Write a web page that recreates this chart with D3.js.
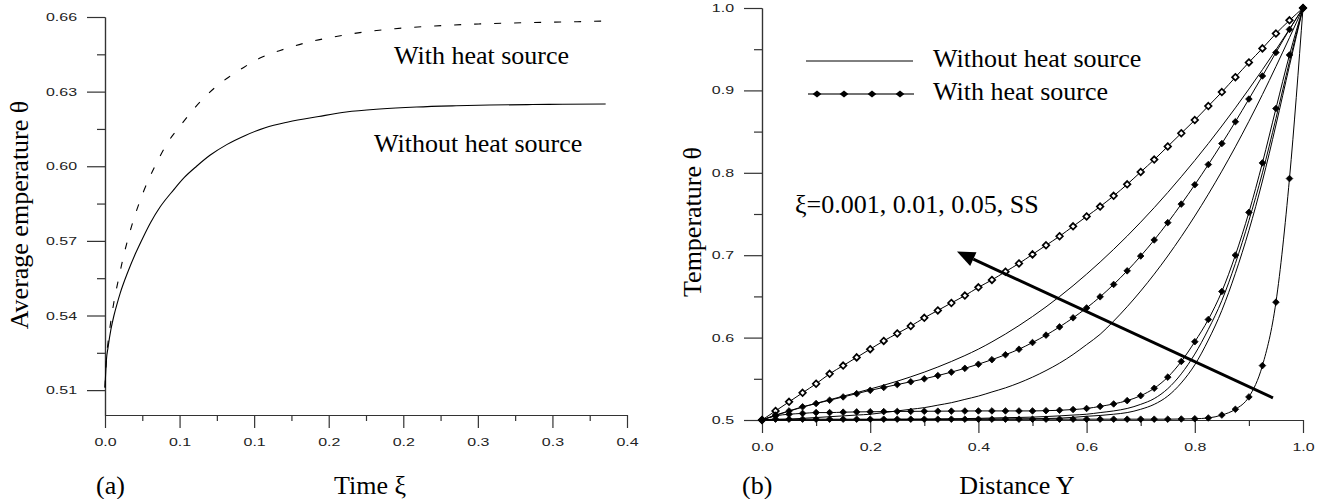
<!DOCTYPE html>
<html>
<head>
<meta charset="utf-8">
<script src="https://cdn.jsdelivr.net/npm/d3@7"></script>
<style>
  html, body { margin: 0; padding: 0; background: #fff; }
  svg { display: block; }
  .tick text { font-family: "Liberation Sans", Arial, sans-serif; font-size: 11px; fill: #222; }
  .serif { font-family: "Liberation Serif", "Times New Roman", serif; font-size: 26px; fill: #000; }
</style>
</head>
<body>
<svg id="chart" width="1327" height="499"></svg>
<script>
// ---- Panel (a): average temperature vs time ----
const xiWithout = [0, 0.001, 0.002, 0.004, 0.006, 0.008, 0.0102, 0.0153, 0.0205, 0.0256, 0.0307, 0.0368, 0.046, 0.0532, 0.0614,
  0.0706, 0.0819, 0.0941, 0.1074, 0.1228, 0.1433, 0.1617, 0.1842, 0.2088, 0.2354, 0.2579, 0.2865, 0.307, 0.3357];
const thetaWithout = [0.511, 0.5225, 0.527, 0.5345, 0.540, 0.5445, 0.549, 0.5575, 0.565, 0.5715, 0.5775, 0.5835, 0.5905, 0.5955, 0.600,
  0.6045, 0.6088, 0.6124, 0.6155, 0.6178, 0.620, 0.6218, 0.623, 0.6238, 0.6243, 0.6246, 0.6248, 0.6249, 0.625];

const xiWith = [0, 0.001, 0.002, 0.004, 0.006, 0.0092, 0.0123, 0.0164, 0.0205, 0.0256, 0.0343, 0.042, 0.0512, 0.0583, 0.0655,
  0.0737, 0.0829, 0.0921, 0.1039, 0.1197, 0.1371, 0.1535, 0.174, 0.1944, 0.221, 0.2507, 0.2814, 0.307, 0.3387];
const thetaWith = [0.511, 0.523, 0.529, 0.538, 0.5455, 0.555, 0.5635, 0.573, 0.581, 0.5895, 0.601, 0.6095, 0.6168, 0.6222, 0.627,
  0.6316, 0.6358, 0.6394, 0.6435, 0.647, 0.650, 0.652, 0.654, 0.6553, 0.6564, 0.6572, 0.6577, 0.658, 0.6584];

const xTicksA = [0, 0.05, 0.10, 0.15, 0.20, 0.25, 0.30, 0.35];
const xTickLabelsA = ["0.0", "0.1", "0.1", "0.2", "0.2", "0.3", "0.3", "0.4"];
const xMinorA = [0.025, 0.075, 0.125, 0.175, 0.225, 0.275, 0.325];
const yTicksA = [0.51, 0.54, 0.57, 0.60, 0.63, 0.66];
const yMinorA = [0.525, 0.555, 0.585, 0.615, 0.645];

// ---- Panel (b): temperature profiles across the channel ----
const distY = [0, 0.025, 0.05, 0.075, 0.1, 0.125, 0.15, 0.175, 0.2, 0.225, 0.25, 0.275, 0.3, 0.325, 0.35, 0.375, 0.4,
  0.425, 0.45, 0.475, 0.5, 0.525, 0.55, 0.575, 0.6, 0.625, 0.65, 0.675, 0.7, 0.725, 0.75, 0.775, 0.8, 0.825, 0.85,
  0.875, 0.9, 0.925, 0.95, 0.975, 1.0];

// with heat source (diamond markers)
const withSS = [0.500, 0.511, 0.522, 0.533, 0.544, 0.556, 0.566, 0.576, 0.586, 0.596, 0.605, 0.614, 0.624, 0.633, 0.642,
  0.651, 0.661, 0.670, 0.680, 0.690, 0.701, 0.712, 0.723, 0.735, 0.747, 0.759, 0.772, 0.786, 0.801, 0.816, 0.832,
  0.848, 0.864, 0.881, 0.898, 0.916, 0.934, 0.951, 0.969, 0.985, 1.000];
const with005 = [0.500, 0.506, 0.511, 0.516, 0.520, 0.524, 0.528, 0.532, 0.536, 0.5395, 0.543, 0.5464, 0.550, 0.5539, 0.5581,
  0.5627, 0.5677, 0.5732, 0.5792, 0.5859, 0.594, 0.603, 0.613, 0.624, 0.636, 0.6495, 0.6645, 0.681, 0.699, 0.7185, 0.7395,
  0.762, 0.7855, 0.810, 0.8355, 0.862, 0.8895, 0.9175, 0.946, 0.974, 1.000];
const with001 = [0.500, 0.505, 0.507, 0.508, 0.509, 0.509, 0.5095, 0.5098, 0.510, 0.5102, 0.5104, 0.5105, 0.5106, 0.5107, 0.5108,
  0.5109, 0.511, 0.511, 0.511, 0.511, 0.511, 0.5113, 0.5118, 0.5127, 0.514, 0.5165, 0.5195, 0.5235, 0.5295, 0.5385, 0.552,
  0.571, 0.595, 0.622, 0.656, 0.700, 0.752, 0.812, 0.878, 0.943, 1.000];
const with0001 = [0.500, 0.501, 0.501, 0.501, 0.501, 0.501, 0.501, 0.501, 0.501, 0.501, 0.501, 0.501, 0.501, 0.501, 0.501,
  0.501, 0.501, 0.501, 0.501, 0.501, 0.501, 0.501, 0.501, 0.501, 0.501, 0.501, 0.501, 0.501, 0.501, 0.501, 0.501,
  0.5012, 0.5015, 0.5025, 0.506, 0.513, 0.528, 0.566, 0.643, 0.793, 1.000];

// without heat source (plain lines)
const withoutSS = [0.500, 0.5055, 0.5107, 0.5156, 0.5202, 0.5246, 0.5289, 0.5332, 0.5376, 0.5422, 0.5471, 0.5524, 0.5581, 0.5643, 0.5710,
  0.5782, 0.5860, 0.5948, 0.6043, 0.6146, 0.6256, 0.6373, 0.6498, 0.6630, 0.6770, 0.6917, 0.7071, 0.7232, 0.7401, 0.7577, 0.7761,
  0.7952, 0.8150, 0.8355, 0.8568, 0.8788, 0.9016, 0.9251, 0.9493, 0.9743, 1.000];
const without005 = [0.500, 0.5005, 0.501, 0.502, 0.503, 0.504, 0.505, 0.506, 0.507, 0.509, 0.511, 0.513, 0.515, 0.518, 0.521,
  0.525, 0.529, 0.534, 0.539, 0.545, 0.552, 0.560, 0.569, 0.5795, 0.5915, 0.604, 0.620, 0.6375, 0.6565, 0.677, 0.699,
  0.7225, 0.7475, 0.774, 0.802, 0.8315, 0.8625, 0.895, 0.929, 0.964, 1.000];
const without001 = [0.500, 0.500, 0.500, 0.500, 0.500, 0.5002, 0.5003, 0.5004, 0.5005, 0.5007, 0.5008, 0.5009, 0.501, 0.5012, 0.5014,
  0.5017, 0.502, 0.5024, 0.5028, 0.5031, 0.5035, 0.5042, 0.505, 0.506, 0.507, 0.509, 0.511, 0.514, 0.519, 0.526, 0.538,
  0.556, 0.580, 0.610, 0.645, 0.690, 0.742, 0.800, 0.866, 0.935, 1.000];
const without0001 = [0.500, 0.500, 0.500, 0.500, 0.500, 0.500, 0.500, 0.5001, 0.5002, 0.5003, 0.5004, 0.5005, 0.5006, 0.5007, 0.5008,
  0.5009, 0.501, 0.5011, 0.5012, 0.5013, 0.5015, 0.5018, 0.5022, 0.5032, 0.5045, 0.5055, 0.507, 0.509, 0.513, 0.519, 0.529,
  0.545, 0.567, 0.597, 0.633, 0.678, 0.730, 0.790, 0.858, 0.930, 1.000];

const xTicksB = [0, 0.2, 0.4, 0.6, 0.8, 1.0];
const xMinorB = [0.1, 0.3, 0.5, 0.7, 0.9];
const yTicksB = [0.5, 0.6, 0.7, 0.8, 0.9, 1.0];
const yMinorB = [0.55, 0.65, 0.75, 0.85, 0.95];

// arrow annotation: tail and tip in data units of panel (b)
const arrowTail = [0.9445, 0.5268];
const arrowTip = [0.3604, 0.7044];

// ---- layout ----
const svg = d3.select('#chart');
const axisColor = '#333';

const xA = d3.scaleLinear().domain([0, 0.35]).range([105, 627]);
const yA = d3.scaleLinear().domain([0.5, 0.66]).range([415, 17]);
const xB = d3.scaleLinear().domain([0, 1]).range([762, 1303]);
const yB = d3.scaleLinear().domain([0.5, 1]).range([420, 8]);

// stretch tick labels horizontally (source figure uses a wide sans font)
function stretchLabels(sel) {
  sel.selectAll('.tick text').each(function () {
    const w = this.getComputedTextLength();
    d3.select(this).attr('textLength', w * 1.45).attr('lengthAdjust', 'spacingAndGlyphs');
  });
}

function styleAxis(g) {
  g.select('.domain').attr('stroke', axisColor).attr('stroke-width', 1.2);
  g.selectAll('.tick line').attr('stroke', axisColor).attr('stroke-width', 1.2);
}

function drawAxes(xs, ys, xMajor, xMinor, xFmt, yMajor, yMinor, yFmt) {
  const y0 = ys.range()[0];
  const x0 = xs.range()[0];
  const gx = svg.append('g').attr('transform', `translate(0,${y0})`)
    .call(d3.axisBottom(xs).tickValues(xMajor).tickSize(13).tickSizeOuter(0).tickPadding(10).tickFormat(xFmt));
  styleAxis(gx);
  stretchLabels(gx);
  const gxm = svg.append('g').attr('transform', `translate(0,${y0})`)
    .call(d3.axisBottom(xs).tickValues(xMinor).tickSize(6).tickSizeOuter(0).tickFormat(''));
  styleAxis(gxm);

  const gy = svg.append('g').attr('transform', `translate(${x0},0)`)
    .call(d3.axisLeft(ys).tickValues(yMajor).tickSize(18).tickSizeOuter(0).tickPadding(10).tickFormat(yFmt));
  styleAxis(gy);
  stretchLabels(gy);
  const gym = svg.append('g').attr('transform', `translate(${x0},0)`)
    .call(d3.axisLeft(ys).tickValues(yMinor).tickSize(8).tickSizeOuter(0).tickFormat(''));
  styleAxis(gym);
}

// ---- panel (a) ----
drawAxes(xA, yA, xTicksA, xMinorA, (d, i) => xTickLabelsA[i], yTicksA, yMinorA, d3.format('.2f'));

const lineA = d3.line().x(d => xA(d[0])).y(d => yA(d[1])).curve(d3.curveMonotoneX);

svg.append('path')
  .datum(xiWithout.map((x, i) => [x, thetaWithout[i]]))
  .attr('d', lineA).attr('fill', 'none').attr('stroke', '#000').attr('stroke-width', 1.1);

svg.append('path')
  .datum(xiWith.map((x, i) => [x, thetaWith[i]]))
  .attr('d', lineA).attr('fill', 'none').attr('stroke', '#000').attr('stroke-width', 1.1)
  .attr('stroke-dasharray', '7,13');

svg.append('text').attr('class', 'serif').attr('x', 394).attr('y', 64).text('With heat source');
svg.append('text').attr('class', 'serif').attr('x', 374).attr('y', 152).text('Without heat source');

svg.append('text').attr('class', 'serif')
  .attr('transform', 'rotate(-90)').attr('x', -215).attr('y', 28)
  .attr('text-anchor', 'middle').text('Average emperature θ');
svg.append('text').attr('class', 'serif').attr('x', 96).attr('y', 494).text('(a)');
svg.append('text').attr('class', 'serif').attr('x', 370).attr('y', 494)
  .attr('text-anchor', 'middle').text('Time ξ');

// ---- panel (b) ----
drawAxes(xB, yB, xTicksB, xMinorB, d3.format('.1f'), yTicksB, yMinorB, d3.format('.1f'));

const lineB = d3.line().x(d => xB(d[0])).y(d => yB(d[1])).curve(d3.curveMonotoneX);
const diamond = 'M0,-3.3L3.3,0L0,3.3L-3.3,0Z';

const plainSeries = [withoutSS, without005, without001, without0001];
plainSeries.forEach(vals => {
  svg.append('path')
    .datum(distY.map((y, i) => [y, vals[i]]))
    .attr('d', lineB).attr('fill', 'none').attr('stroke', '#000').attr('stroke-width', 1);
});

const markedSeries = [
  { vals: withSS, hollow: true },
  { vals: with005, hollow: false },
  { vals: with001, hollow: false },
  { vals: with0001, hollow: false }
];
markedSeries.forEach(s => {
  const pts = distY.map((y, i) => [y, s.vals[i]]);
  svg.append('path').datum(pts)
    .attr('d', lineB).attr('fill', 'none').attr('stroke', '#000').attr('stroke-width', 1);
  svg.append('g').selectAll('path')
    .data(pts)
    .join('path')
    .attr('d', diamond)
    .attr('transform', d => `translate(${xB(d[0])},${yB(d[1])})`)
    .attr('fill', s.hollow ? '#fff' : '#000')
    .attr('stroke', '#000')
    .attr('stroke-width', s.hollow ? 1.7 : 0.8);
});

// legend
svg.append('line').attr('x1', 806).attr('x2', 913).attr('y1', 61).attr('y2', 61)
  .attr('stroke', '#000').attr('stroke-width', 1);
svg.append('line').attr('x1', 808).attr('x2', 914).attr('y1', 94).attr('y2', 94)
  .attr('stroke', '#444').attr('stroke-width', 1.6);
[817, 844, 872, 900].forEach(x => {
  svg.append('path').attr('d', 'M0,-3.6L4.4,0L0,3.6L-4.4,0Z')
    .attr('transform', `translate(${x},94)`).attr('fill', '#000');
});
svg.append('text').attr('class', 'serif').attr('x', 933).attr('y', 67).text('Without heat source');
svg.append('text').attr('class', 'serif').attr('x', 933).attr('y', 100).text('With heat source');

// annotation + arrow
svg.append('text').attr('class', 'serif').attr('x', 795).attr('y', 213).text('ξ=0.001, 0.01, 0.05, SS');

const tx = xB(arrowTail[0]), ty = yB(arrowTail[1]);
const hx = xB(arrowTip[0]), hy = yB(arrowTip[1]);
const ang = Math.atan2(hy - ty, hx - tx);
const headLen = 18, headHalf = 7.5;
const bx = hx - headLen * Math.cos(ang), by = hy - headLen * Math.sin(ang);
svg.append('line').attr('x1', tx).attr('y1', ty).attr('x2', bx).attr('y2', by)
  .attr('stroke', '#000').attr('stroke-width', 3);
svg.append('path')
  .attr('d', `M${hx},${hy}L${bx + headHalf * Math.sin(ang)},${by - headHalf * Math.cos(ang)}` +
    `L${bx - headHalf * Math.sin(ang)},${by + headHalf * Math.cos(ang)}Z`)
  .attr('fill', '#000');

svg.append('text').attr('class', 'serif')
  .attr('transform', 'rotate(-90)').attr('x', -222).attr('y', 701)
  .attr('text-anchor', 'middle').text('Temperature θ');
svg.append('text').attr('class', 'serif').attr('x', 742).attr('y', 494).text('(b)');
svg.append('text').attr('class', 'serif').attr('x', 1017).attr('y', 494)
  .attr('text-anchor', 'middle').text('Distance Y');
</script>
</body>
</html>
